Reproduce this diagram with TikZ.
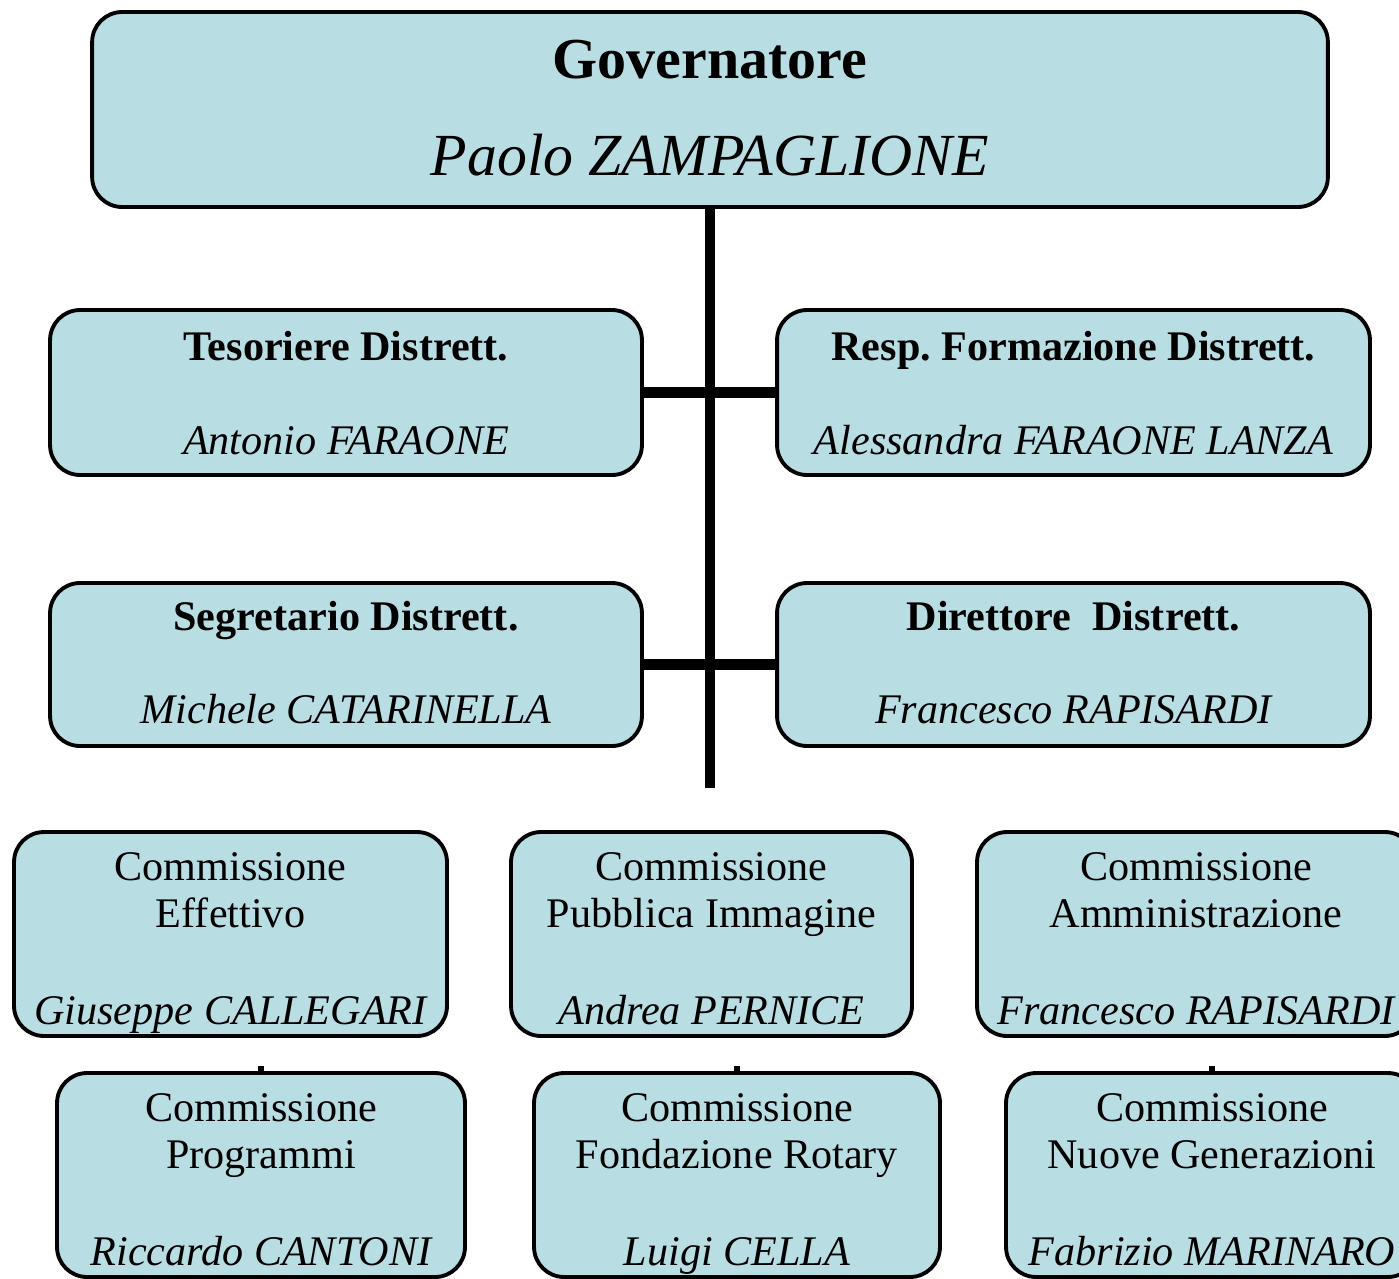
\documentclass[tikz,border=0pt]{standalone}
\usepackage{fontspec}
\setmainfont{Liberation Serif}
\usepackage{tikz}
\usetikzlibrary{calc}
\definecolor{celeste}{RGB}{184,222,228}
\frenchspacing

\begin{document}
\begin{tikzpicture}[x=0.02cm,y=-0.02cm,
	box/.style={draw,line width=2.2pt,fill=celeste,rounded corners=0.6cm,inner sep=0pt},
	ruolo/.style={anchor=base,font=\fontsize{24}{28}\selectfont\bfseries},
	nome/.style={anchor=base,font=\fontsize{24}{28}\selectfont\itshape},
	comm/.style={anchor=base,font=\fontsize{24}{28}\selectfont},
	linea/.style={line width=6pt}]
	\clip (0,0) rectangle (1399,1278);
	
	\node[box,minimum width=24.72cm,minimum height=3.9cm] (gov) at (710,109.5) {};
	\node[ruolo,font=\fontsize{33}{40}\selectfont\bfseries] (gov-a) at ($(gov.north)+(0,68)$) {Governatore};
	\node[nome,font=\fontsize{34}{40}\selectfont\itshape] (gov-b) at ($(gov.north)+(0,165)$) {Paolo ZAMPAGLIONE};
	
	\node[box,minimum width=11.84cm,minimum height=3.3cm] (tes) at (346,392.5) {};
	\node[box,minimum width=11.86cm,minimum height=3.3cm] (resp) at (1073.5,392.5) {};
	\node[box,minimum width=11.84cm,minimum height=3.26cm] (seg) at (346,664.5) {};
	\node[box,minimum width=11.86cm,minimum height=3.26cm] (dir) at (1073.5,664.5) {};
	
	\node[ruolo] (tes-a) at ($(tes.north)+(0,52)$) {Tesoriere Distrett.};
	\node[nome] (tes-b) at ($(tes.north)+(0,146)$) {Antonio FARAONE};
	\node[ruolo] (resp-a) at ($(resp.north)+(0,52)$) {Resp. Formazione Distrett.};
	\node[nome] (resp-b) at ($(resp.north)+(0,146)$) {Alessandra FARAONE LANZA};
	\node[ruolo] (seg-a) at ($(seg.north)+(0,49)$) {Segretario Distrett.};
	\node[nome] (seg-b) at ($(seg.north)+(0,142)$) {Michele CATARINELLA};
	\node[ruolo] (dir-a) at ($(dir.north)+(0,49)$) {Direttore~ Distrett.};
	\node[nome] (dir-b) at ($(dir.north)+(0,142)$) {Francesco RAPISARDI};
	
	% commissioni
	\foreach \n/\cx/\cy/\w/\riga/\pers in {eff/230.5/934/8.66/Effettivo/Giuseppe CALLEGARI,
		pubb/711.5/934/8.02/Pubblica Immagine/Andrea PERNICE,
		amm/1196/934/8.76/Amministrazione/Francesco RAPISARDI,
		prog/261/1175/8.16/Programmi/Riccardo CANTONI,
		fond/737/1175/8.12/Fondazione Rotary/Luigi CELLA,
		nuove/1212/1175/8.24/Nuove Generazioni/Fabrizio MARINARO}{
		\node[box,minimum width=\w cm,minimum height=4.08cm] (\n) at (\cx,\cy) {};
		\node[comm] (\n-a) at ($(\n.north)+(0,50)$) {Commissione};
		\node[comm] (\n-b) at ($(\n.north)+(0,97)$) {\riga};
		\node[nome] (\n-c) at ($(\n.north)+(0,194)$) {\pers};
	}
	
	\coordinate (fine) at (710,788);
	\draw[linea] (gov.south) -- (fine);
	\draw[linea] (tes.east) -- (resp.west);
	\draw[linea] (seg.east) -- (dir.west);
	\foreach \n in {prog,fond,nuove}
		\draw[line width=3pt] (\n.north) -- ++(0,-5);
\end{tikzpicture}
\end{document}
